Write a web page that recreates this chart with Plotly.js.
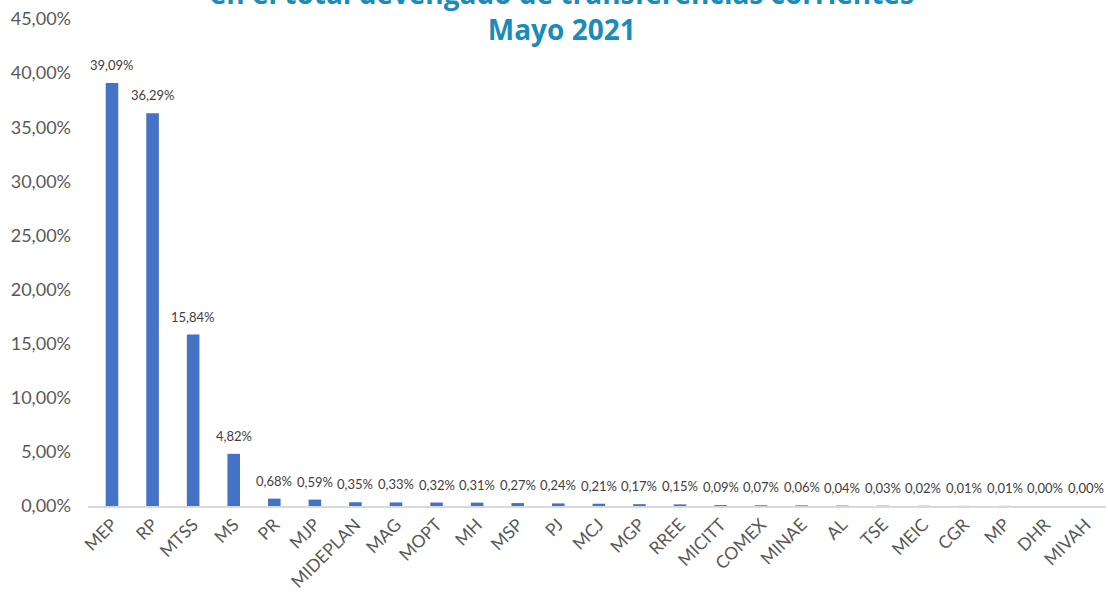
<!DOCTYPE html>
<html><head><meta charset="utf-8">
<script src="https://cdn.plot.ly/plotly-3.0.1.min.js"></script>
<style>html,body{margin:0;padding:0;background:#fff}#c{width:1108px;height:594px}</style>
</head><body><div id="c"></div>
<script>
const categories = ["MEP","RP","MTSS","MS","PR","MJP","MIDEPLAN","MAG","MOPT","MH","MSP","PJ","MCJ","MGP","RREE","MICITT","COMEX","MINAE","AL","TSE","MEIC","CGR","MP","DHR","MIVAH"];
const values = [39.09,36.29,15.84,4.82,0.68,0.59,0.35,0.33,0.32,0.31,0.27,0.24,0.21,0.17,0.15,0.09,0.07,0.06,0.04,0.03,0.02,0.01,0.01,0.00,0.00];
const titleText = "en el total devengado de transferencias corrientes<br>Mayo 2021";

const fmt = v => v.toFixed(2).replace('.', ',') + '%';

const trace = {
  type: 'bar', x: categories, y: values,
  marker: {color: '#4472c4'}, width: 0.31,
  hoverinfo: 'x+y'
};
const annotations = categories.map((c, i) => ({
  x: c, y: values[i], xref: 'x', yref: 'y', text: fmt(values[i]),
  showarrow: false, yanchor: 'bottom', xanchor: 'center', yshift: 8,
  font: {family: 'Lato, "Open Sans", sans-serif', size: 13, color: '#404040'}
}));
const layout = {
  width: 1108, height: 594,
  margin: {l: 88, r: 2, t: 19, b: 88, autoexpand: false},
  separators: ',.',
  paper_bgcolor: '#fff', plot_bgcolor: '#fff',
  showlegend: false,
  annotations: annotations,
  title: {text: titleText, x: 0.507, xanchor: 'center', y: 0.994, yanchor: 'bottom', yref: 'container',
          font: {family: '"Open Sans", sans-serif', size: 28, color: '#1a8cb8', weight: 'bold'}},
  xaxis: {type: 'category', showline: true, linecolor: '#d9d9d9', linewidth: 1.5, ticks: '', tickangle: -45,
          automargin: false,
          tickfont: {family: 'Lato, "Open Sans", sans-serif', size: 17.5, color: '#595959'}, fixedrange: true},
  yaxis: {range: [0, 45], dtick: 5, tick0: 0, showgrid: false, zeroline: false, showline: false,
          automargin: false,
          ticksuffix: '%', tickformat: '.2f', ticklabelstandoff: 16,
          tickfont: {family: 'Lato, "Open Sans", sans-serif', size: 18, color: '#595959'}, fixedrange: true}
};
Plotly.newPlot('c', [trace], layout, {displayModeBar: false, staticPlot: true});
</script></body></html>
